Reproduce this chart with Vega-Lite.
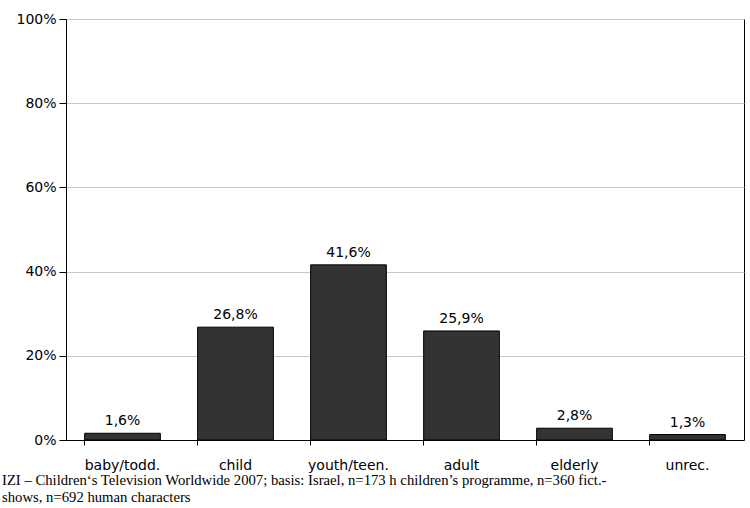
{
  "$schema": "https://vega.github.io/schema/vega-lite/v6.json",
  "width": 678,
  "height": 421,
  "autosize": {"type": "none"},
  "padding": {"left": 66, "top": 19, "right": 6, "bottom": 68},
  "background": "white",
  "data": {"values": [
    {"category": "baby/todd.", "value": 1.6},
    {"category": "child", "value": 26.8},
    {"category": "youth/teen.", "value": 41.6},
    {"category": "adult", "value": 25.9},
    {"category": "elderly", "value": 2.8},
    {"category": "unrec.", "value": 1.3}
  ]},
  "title": {
    "text": ["IZI – Children‘s Television Worldwide 2007; basis: Israel, n=173 h children’s programme, n=360 fict.-", "shows, n=692 human characters"],
    "orient": "bottom",
    "anchor": "start",
    "frame": "group",
    "dx": -64,
    "offset": 1,
    "font": "Liberation Serif",
    "fontSize": 14.7,
    "fontWeight": "normal",
    "color": "black",
    "lineHeight": 17
  },
  "encoding": {
    "x": {
      "field": "category",
      "type": "nominal",
      "sort": null,
      "scale": {"paddingInner": 0.33, "paddingOuter": 0.165},
      "axis": {
        "title": null,
        "labelAngle": 0,
        "labelFont": "DejaVu Sans",
        "labelFontSize": 14,
        "labelColor": "black",
        "labelPadding": 13,
        "bandPosition": 0,
        "tickSize": 5,
        "tickColor": "black",
        "domainColor": "black",
        "grid": false
      }
    },
    "y": {
      "field": "value",
      "type": "quantitative",
      "scale": {"domain": [0, 100], "nice": false},
      "axis": {
        "title": null,
        "values": [0, 20, 40, 60, 80, 100],
        "labelExpr": "datum.value + '%'",
        "labelFont": "DejaVu Sans",
        "labelFontSize": 14,
        "labelColor": "black",
        "labelPadding": 3,
        "tickSize": 7,
        "tickColor": "black",
        "domainColor": "black",
        "gridColor": "#c8c8c8",
        "gridWidth": 1
      }
    }
  },
  "layer": [
    {"mark": {"type": "bar", "color": "#333333", "stroke": "black", "strokeWidth": 1}},
    {
      "mark": {
        "type": "text",
        "baseline": "bottom",
        "dy": -5,
        "font": "DejaVu Sans",
        "fontSize": 14,
        "color": "black",
        "text": {"expr": "replace(format(datum.value, '.1f'), '.', ',') + '%'"}
      }
    }
  ],
  "config": {
    "view": {"stroke": "black", "strokeWidth": 1}
  }
}
